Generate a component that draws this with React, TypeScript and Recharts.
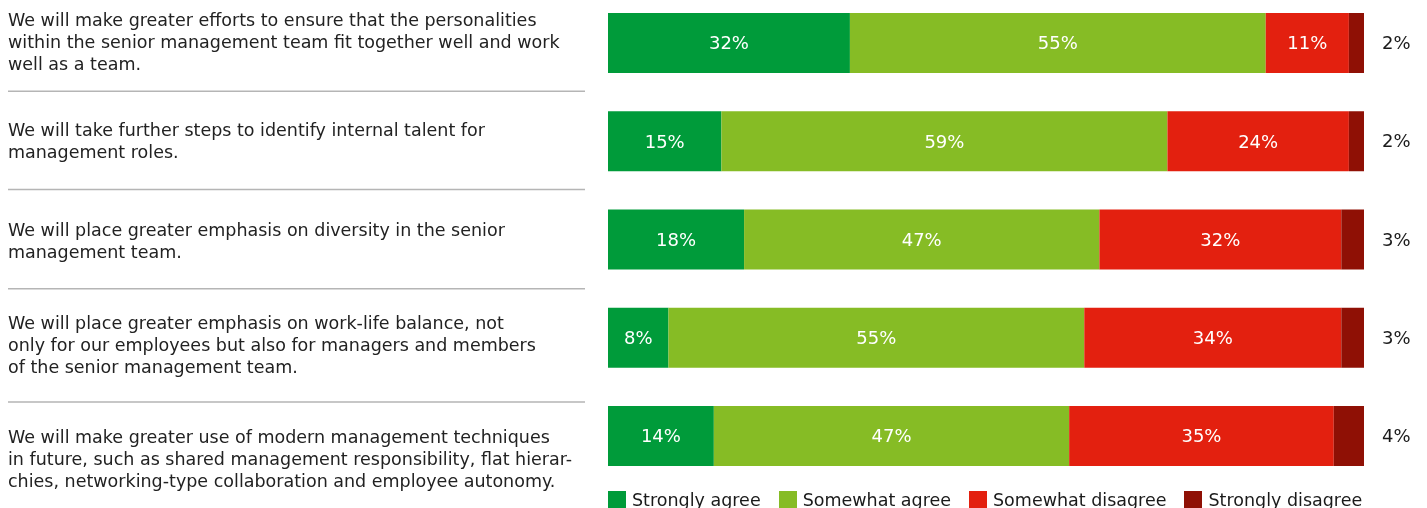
import React from 'react';
import { BarChart, Bar, XAxis, YAxis, Legend, LabelList } from 'recharts';

const statements = [
  'We will make greater efforts to ensure that the personalities\nwithin the senior management team fit together well and work\nwell as a team.',
  'We will take further steps to identify internal talent for\nmanagement roles.',
  'We will place greater emphasis on diversity in the senior\nmanagement team.',
  'We will place greater emphasis on work-life balance, not\nonly for our employees but also for managers and members\nof the senior management team.',
  'We will make greater use of modern management techniques\nin future, such as shared management responsibility, flat hierar-\nchies, networking-type collaboration and employee autonomy.',
];
const stronglyAgree = [32, 15, 18, 8, 14];
const somewhatAgree = [55, 59, 47, 55, 47];
const somewhatDisagree = [11, 24, 32, 34, 35];
const stronglyDisagree = [2, 2, 3, 3, 4];

const series = [
  { key: 'sa', name: 'Strongly agree', color: '#009b3a' },
  { key: 'wa', name: 'Somewhat agree', color: '#86bc25' },
  { key: 'wd', name: 'Somewhat disagree', color: '#e3200f' },
  { key: 'sd', name: 'Strongly disagree', color: '#8f1005' },
];

const data = statements.map((s, i) => ({
  statement: s,
  sa: stronglyAgree[i],
  wa: somewhatAgree[i],
  wd: somewhatDisagree[i],
  sd: stronglyDisagree[i],
}));

// vertical tweaks for the left text blocks and the grey rules under them
const textShift = [-1, 0, 1, 7, 23];
const ruleShift = [48, 48, 49, 64, null];

const FONT = '"DejaVu Sans", Verdana, sans-serif';

const StatementTick = (props: any) => {
  const { y, payload, index } = props;
  const lines = String(payload.value).split('\n');
  const lh = 22;
  const c = y + textShift[index];
  const rule = ruleShift[index];
  return (
    <g>
      {lines.map((ln, k) => (
        <text
          key={k}
          x={8}
          y={c + (k - (lines.length - 1) / 2) * lh}
          dy={6}
          fontSize={17.5}
          fontFamily={FONT}
          fill="#222"
          textAnchor="start"
        >
          {ln}
        </text>
      ))}
      {rule != null && (
        <line x1={8} x2={585} y1={y + rule} y2={y + rule} stroke="#b5b5b5" strokeWidth={1.5} />
      )}
    </g>
  );
};

const OutsideLabel = (props: any) => {
  const { x, y, width, height, value } = props;
  return (
    <text
      x={x + width + 18}
      y={y + height / 2}
      dy={6}
      fontSize={18}
      fontFamily={FONT}
      fill="#1a1a1a"
      textAnchor="start"
    >
      {value}%
    </text>
  );
};

const LegendContent = () => (
  <div style={{ display: 'flex', fontFamily: FONT, fontSize: 17.5, color: '#1a1a1a', lineHeight: '18px' }}>
    {series.map((s) => (
      <div key={s.key} style={{ display: 'flex', alignItems: 'center', marginRight: 18 }}>
        <span style={{ width: 18, height: 18, background: s.color, display: 'inline-block', marginRight: 6 }} />
        <span>{s.name}</span>
      </div>
    ))}
  </div>
);

export default function App() {
  return (
    <div style={{ position: 'fixed', top: -6, left: 0 }}>
      <BarChart
        width={1427}
        height={514}
        data={data}
        layout="vertical"
        margin={{ top: 0, right: 63, bottom: 22.75, left: 8 }}
      >
        <XAxis type="number" domain={[0, 100]} hide />
        <YAxis
          type="category"
          dataKey="statement"
          width={600}
          axisLine={false}
          tickLine={false}
          tick={<StatementTick />}
          interval={0}
        />
        <Legend
          verticalAlign="middle"
          align="center"
          layout="horizontal"
          content={<LegendContent />}
          wrapperStyle={{ top: 497, left: 608, width: 800, height: 20 }}
        />
        {series.map((s, i) => (
          <Bar
            key={s.key}
            dataKey={s.key}
            name={s.name}
            stackId="a"
            fill={s.color}
            barSize={60}
            isAnimationActive={false}
          >
            {i < 3 ? (
              <LabelList
                dataKey={s.key}
                position="center"
                fill="#fff"
                fontSize={18}
                fontFamily={FONT}
                formatter={(v: any) => `${v}%`}
              />
            ) : (
              <LabelList dataKey={s.key} content={<OutsideLabel />} />
            )}
          </Bar>
        ))}
      </BarChart>
    </div>
  );
}
